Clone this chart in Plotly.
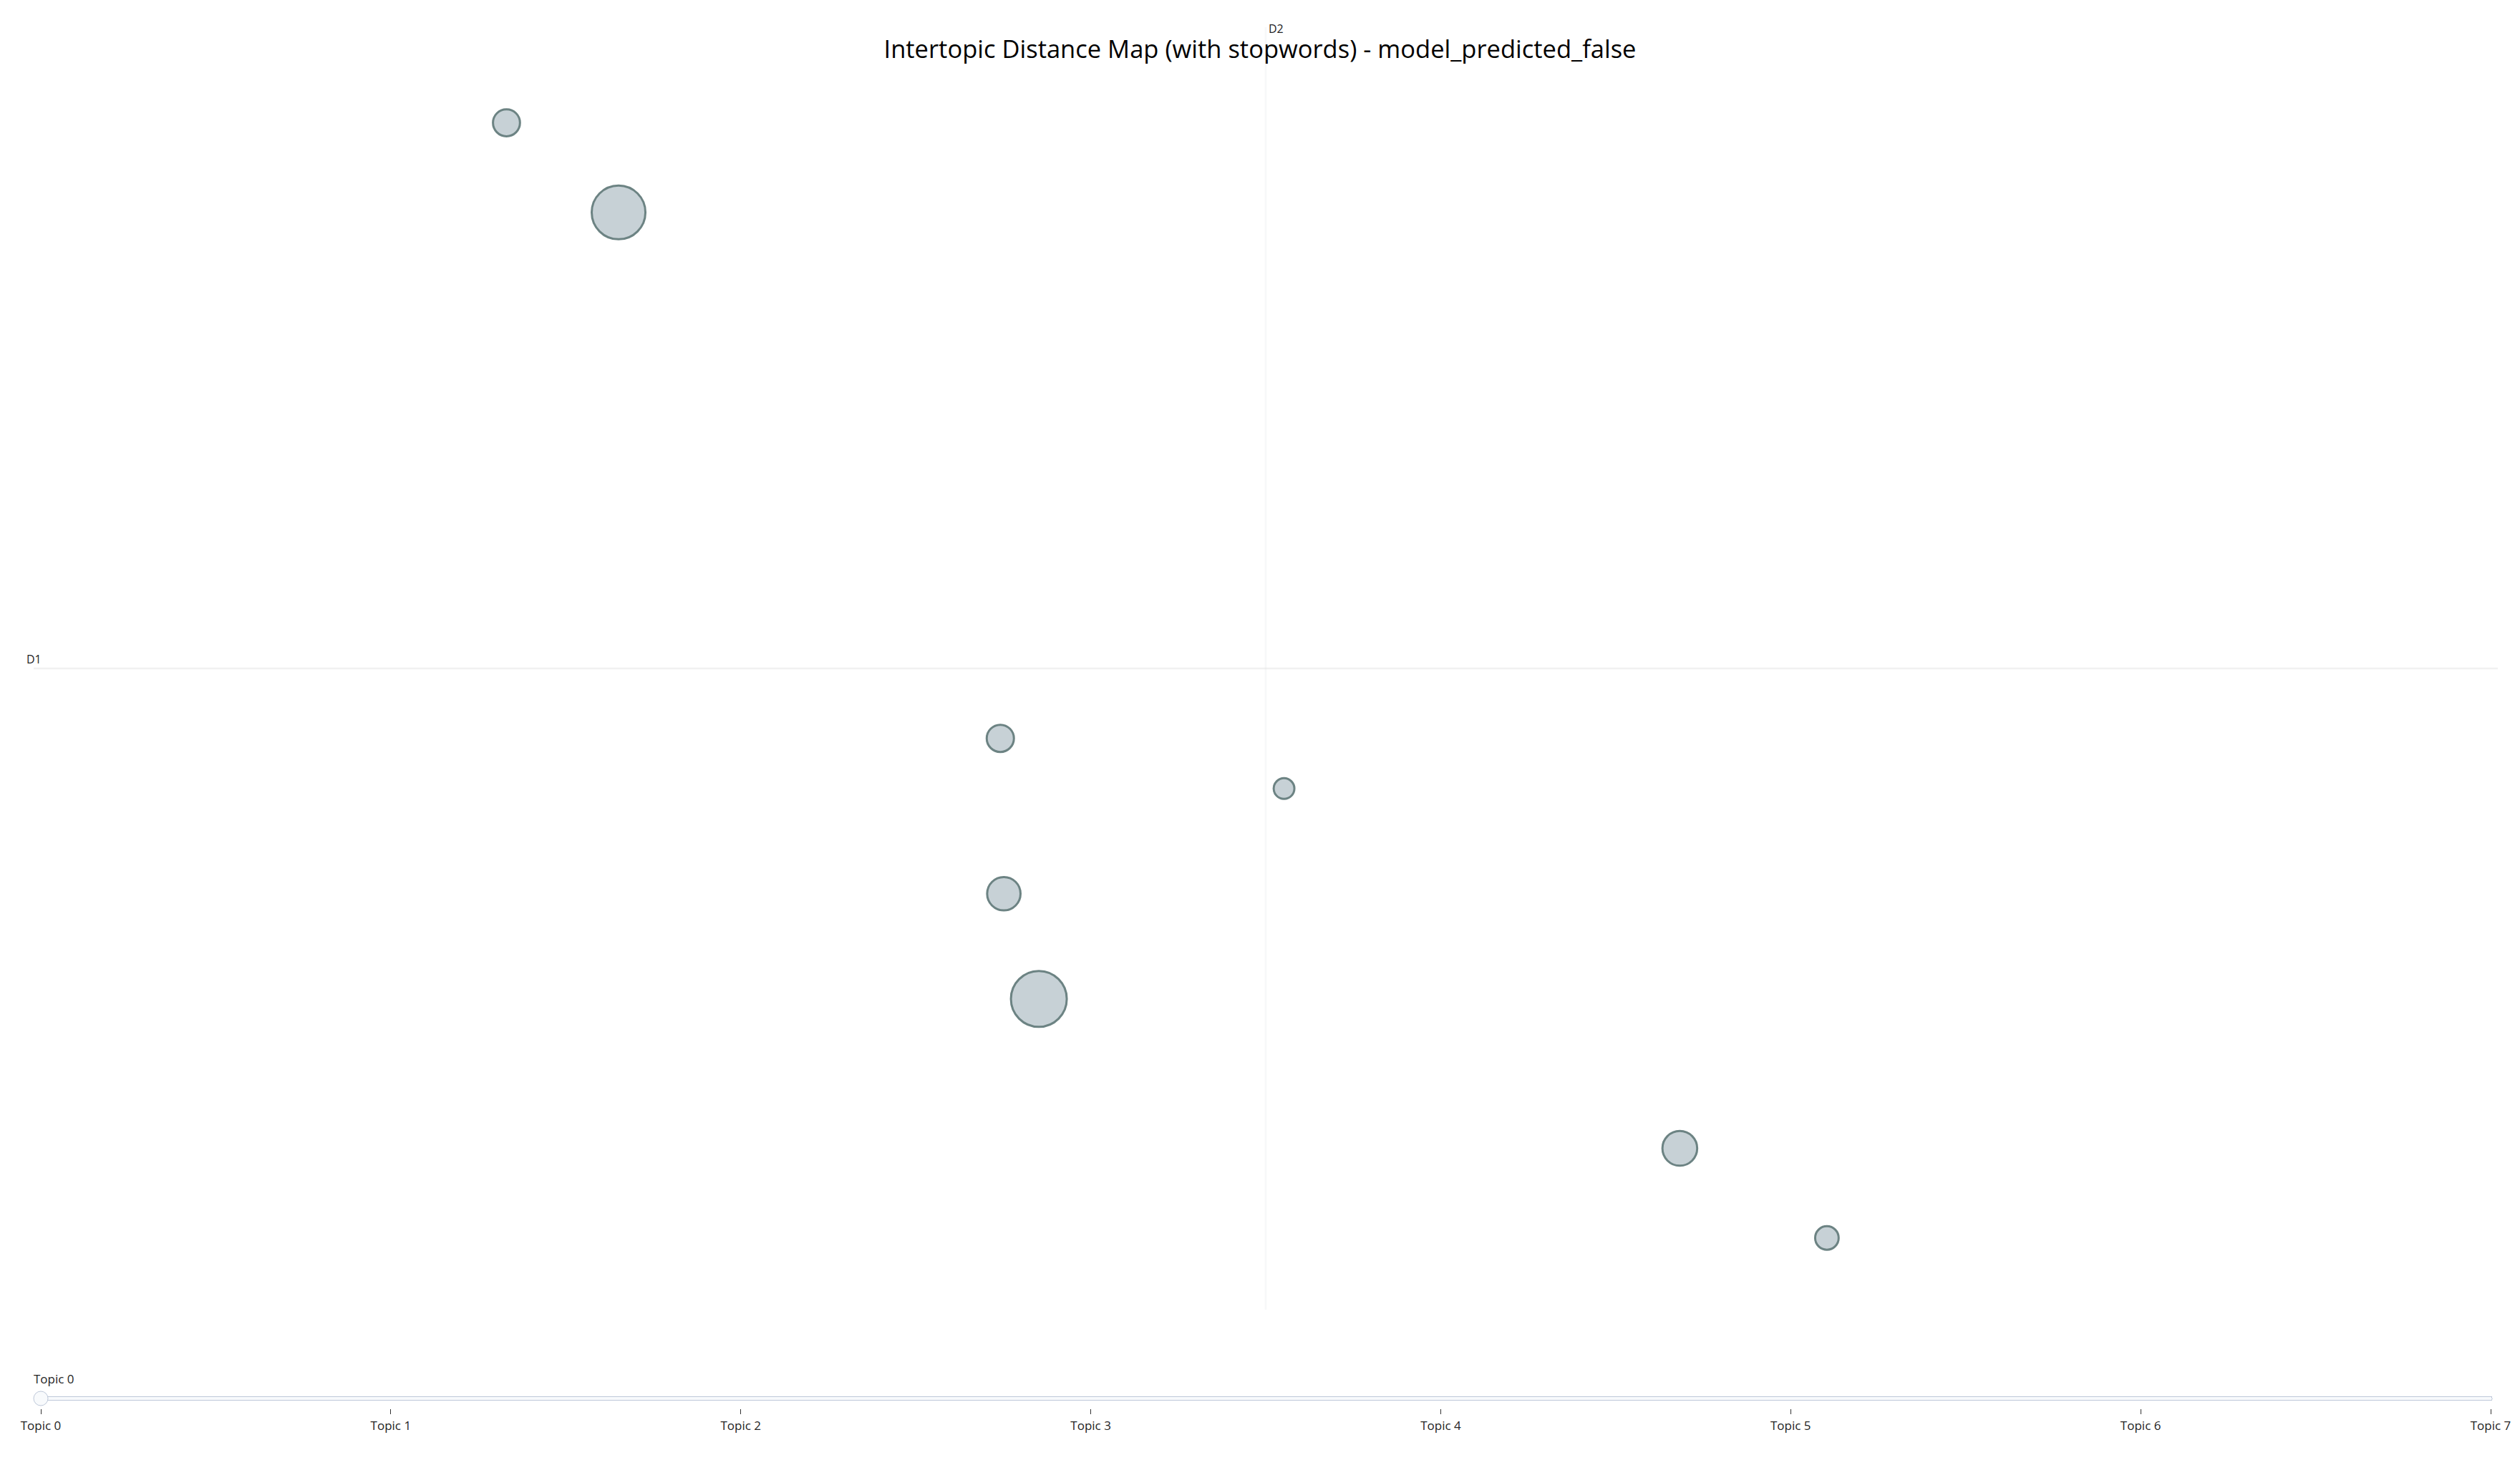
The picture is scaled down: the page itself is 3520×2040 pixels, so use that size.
import plotly.graph_objects as go

title = "Intertopic Distance Map (with stopwords) - model_predicted_false"
topics = [0, 1, 2, 3, 4, 5, 6, 7]
x_vals = [10.52, 9.32, 12.35, 10.42, 9.00, 10.41, 12.77, 11.22]
y_vals = [-2.00, 4.58, -3.25, -1.12, 5.33, 0.18, -4.00, -0.24]
sizes = [632, 585, 245, 226, 148, 150, 112, 87]
slider_labels = [f"Topic {t}" for t in topics]

# ranges as in BERTopic's visualize_topics
x_range = (min(x_vals) - abs(min(x_vals) * .15), max(x_vals) + abs(max(x_vals) * .15))
y_range = (min(y_vals) - abs(min(y_vals) * .15), max(y_vals) + abs(max(y_vals) * .15))

size_max = 78
sizeref = 2.0 * max(sizes) / (size_max ** 2)

fig = go.Figure()
fig.add_trace(go.Scatter(
    x=x_vals, y=y_vals, mode="markers",
    customdata=[[t, s] for t, s in zip(topics, sizes)],
    marker=dict(size=sizes, sizemode="area", sizeref=sizeref, sizemin=0,
                color="#B0BEC5", opacity=0.7,
                line=dict(width=3, color="DarkSlateGrey")),
    hovertemplate="<b>Topic %{customdata[0]}</b><br>Size: %{customdata[1]}<extra></extra>",
    showlegend=False,
))


def get_color(topic_selected):
    return {"marker.color": [["red" if t == topic_selected else "#B0BEC5" for t in topics]]}


steps = [dict(label=lab, method="update", args=[get_color(t)]) for t, lab in zip(topics, slider_labels)]
sliders = [dict(active=0, pad={"t": 81}, steps=steps, font=dict(size=17))]

H = 2024
fig.update_layout(
    width=3504, height=H,
    template="simple_white",
    font=dict(family="Open Sans, verdana, arial, sans-serif", size=16),
    title=dict(text=title, x=0.5, y=1 - 61 / H, xanchor="center", yanchor="middle",
               font=dict(size=34.5, color="black")),
    margin=dict(l=39, r=23, t=30, b=202),
    xaxis=dict(visible=False, range=list(x_range)),
    yaxis=dict(visible=False, range=list(y_range)),
    sliders=sliders,
    hoverlabel=dict(bgcolor="white", font_size=16),
)

xm = sum(x_range) / 2
ym = sum(y_range) / 2
fig.add_shape(type="line", x0=xm, y0=y_range[0], x1=xm, y1=y_range[1],
              line=dict(color="#E6EBED", width=2.5), layer="below")
fig.add_shape(type="line", x0=x_range[0], y0=ym, x1=x_range[1], y1=ym,
              line=dict(color="#D4D4D4", width=2.5), layer="below")
fig.add_annotation(x=x_range[0], y=ym, text="D1", showarrow=False, yshift=13, font=dict(size=16))
fig.add_annotation(x=xm, y=y_range[1], text="D2", showarrow=False, xshift=14, yshift=-2,
                   font=dict(size=16))

fig.write_html("out.html")
